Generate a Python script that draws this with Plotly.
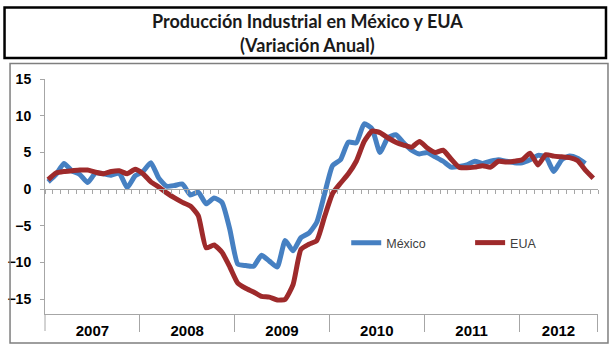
import plotly.graph_objects as go

# ---- data (monthly, Jan 2007 onward) ----
years = ["2007", "2008", "2009", "2010", "2011", "2012"]
mexico = [1.0, 2.0, 3.5, 2.5, 2.0, 0.9, 2.2, 2.1, 1.9, 2.2, 0.2, 1.8,
          2.4, 3.6, 1.5, 0.4, 0.5, 0.7, -0.8, -0.4, -2.0, -1.2, -1.8, -5.5,
          -10.2, -10.4, -10.5, -9.0, -9.8, -10.6, -7.0, -8.4, -6.6, -6.0, -4.5, -0.6,
          3.2, 4.0, 6.4, 6.3, 8.9, 8.2, 5.0, 7.0, 7.4, 6.3, 5.3, 4.8,
          5.0, 4.4, 3.8, 3.0, 3.1, 3.3, 3.8, 3.5, 3.8, 4.0, 3.8, 3.6,
          3.6, 4.0, 4.6, 4.4, 2.4, 4.0, 4.5, 4.2, 3.5]
eua = [1.3, 2.2, 2.4, 2.5, 2.6, 2.6, 2.3, 2.1, 2.4, 2.5, 2.1, 2.7,
       2.1, 1.0, 0.3, -0.5, -1.2, -1.8, -2.3, -3.6, -8.0, -7.6, -8.6, -10.6,
       -12.8, -13.5, -14.0, -14.6, -14.7, -15.1, -15.0, -13.0, -8.2, -7.5, -7.0, -3.7,
       -0.6, 0.8, 2.1, 3.8, 6.5, 7.9, 7.7, 7.0, 6.4, 6.0, 5.7, 6.5,
       5.6, 5.0, 5.3, 4.1, 3.0, 2.9, 3.0, 3.2, 3.0, 3.8, 3.7, 3.8,
       4.0, 4.9, 3.3, 4.7, 4.5, 4.4, 4.3, 3.9, 2.6, 1.5]
series_names = ["México", "EUA"]
y_ticks = [-15, -10, -5, 0, 5, 10, 15]

# ---- layout geometry (pixels) ----
W, H = 615, 350
L, R, T, B = 44.5, 17, 79, 36
PW, PH = W - L - R, H - T - B
XMIN, XMAX = -0.4, 69.6
YMIN, YMAX = -17, 15

def px(x):
    return (x - L) / PW

def py(y):
    return (H - B - y) / PH

BLUE = "#4680C2"
RED = "#9E2A2B"
AXC = "#A6A6A6"
LFONT = dict(family="Liberation Sans", size=12.5, color="#404040")

fig = go.Figure()
fig.add_trace(go.Scatter(x=list(range(len(mexico))), y=mexico, name=series_names[0], legend="legend",
                         mode="lines", line=dict(color=BLUE, width=5, shape="spline", smoothing=0.5)))
fig.add_trace(go.Scatter(x=list(range(len(eua))), y=eua, name=series_names[1], legend="legend2",
                         mode="lines", line=dict(color=RED, width=5, shape="spline", smoothing=0.5)))

year_centers = []
year_bounds = []
for k, yname in enumerate(years):
    start = XMIN + 12 * k
    end = min(start + 12, XMAX)
    year_centers.append((start + end) / 2)
    year_bounds.append(end)

fig.update_layout(
    width=W, height=H,
    margin=dict(l=L, r=R, t=T, b=B, pad=0, autoexpand=False),
    paper_bgcolor="white", plot_bgcolor="white",
    showlegend=True,
    legend=dict(x=px(346), y=py(243), xanchor="left", yanchor="middle", font=LFONT,
                bgcolor="rgba(0,0,0,0)", itemclick=False, itemdoubleclick=False),
    legend2=dict(x=px(470), y=py(243), xanchor="left", yanchor="middle", font=LFONT,
                 bgcolor="rgba(0,0,0,0)", itemclick=False, itemdoubleclick=False),
    xaxis=dict(range=[XMIN, XMAX], showgrid=False, zeroline=False,
               showline=True, linecolor=AXC, linewidth=1,
               tickmode="array", tickvals=year_centers, ticktext=years, ticks="",
               tickfont=dict(family="Liberation Sans", size=15, color="black", weight="bold"),
               ticklabelstandoff=3,
               minor=dict(tickmode="array", tickvals=year_bounds[:-1] + [XMAX - 0.05],
                          ticks="outside", ticklen=17, tickcolor=AXC, tickwidth=1)),
    xaxis2=dict(range=[XMIN, XMAX], overlaying="x", anchor="free", position=(0 - YMIN) / (YMAX - YMIN),
                side="bottom", showline=True, linecolor=AXC, linewidth=1, showgrid=False, zeroline=False,
                tickmode="linear", tick0=XMIN, dtick=1, ticks="outside", ticklen=4, tickcolor=AXC,
                showticklabels=False),
    yaxis=dict(range=[YMIN, YMAX], showgrid=False, zeroline=False,
               showline=True, linecolor=AXC, linewidth=1,
               tickmode="array", tickvals=y_ticks, ticks="outside", ticklen=4, tickcolor=AXC,
               ticklabelstandoff=6,
               tickfont=dict(family="Liberation Sans", size=14, color="black", weight="bold")),
)

# invisible helper trace to activate xaxis2 (zero line with monthly ticks)
fig.add_trace(go.Scatter(x=[XMIN], y=[0], xaxis="x2", mode="markers",
                         marker=dict(opacity=0), showlegend=False, hoverinfo="skip"))

shapes = [
    dict(type="rect", xref="paper", yref="paper", x0=px(4), x1=px(606), y0=py(58), y1=py(7.5),
         line=dict(color="black", width=2.5), fillcolor="rgba(0,0,0,0)", layer="above"),
    dict(type="rect", xref="paper", yref="paper", x0=px(9.5), x1=px(608), y0=py(343), y1=py(63.5),
         line=dict(color="#7F7F7F", width=1.5), fillcolor="rgba(0,0,0,0)", layer="above"),
    dict(type="line", xref="paper", yref="paper", x0=0, x1=0, y0=py(331), y1=0,
         line=dict(color=AXC, width=1)),
]
fig.update_layout(shapes=shapes)

TFONT = dict(family="Lato", size=18, color="#1A1A1A", weight="bold")
fig.add_annotation(text="Producción Industrial en México y EUA", xref="paper", yref="paper",
                   x=px(307), y=py(21), xanchor="center", yanchor="middle", showarrow=False, font=TFONT)
fig.add_annotation(text="(Variación Anual)", xref="paper", yref="paper",
                   x=px(307), y=py(45), xanchor="center", yanchor="middle", showarrow=False, font=TFONT)

fig.write_html("out.html")
